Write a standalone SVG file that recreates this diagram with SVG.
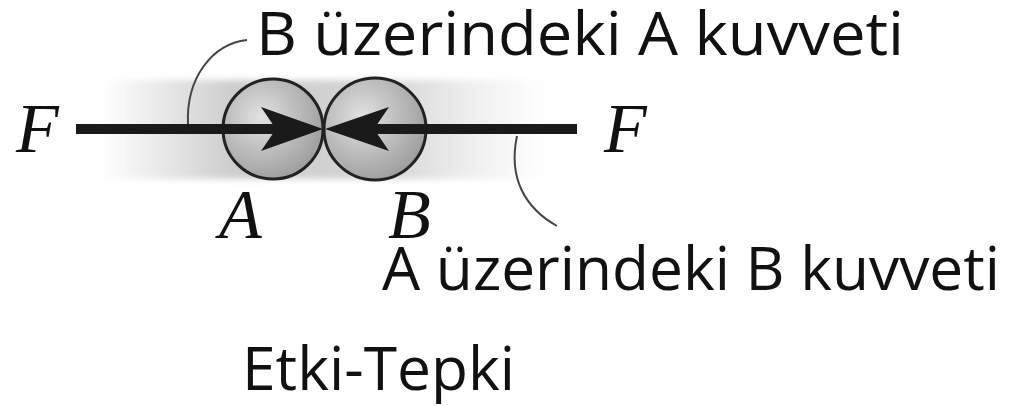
<svg xmlns="http://www.w3.org/2000/svg" width="1013" height="406" viewBox="0 0 1013 406">
  <style>
    .lbl { font-family: "Open Sans", "Liberation Sans", sans-serif; font-size: 60px; fill: #111; }
    .math { font-family: "Liberation Serif", "DejaVu Serif", serif; font-style: italic; font-size: 70px; fill: #111; }
    .ball { fill: url(#ballGrad); stroke: #222; stroke-width: 3; }
    .force { stroke: #1a1a1a; stroke-width: 10; fill: none; }
    .head { fill: #1a1a1a; }
    .leader { stroke: #444; stroke-width: 2; fill: none; }
  </style>
  <defs>
    <linearGradient id="bandGrad" x1="0" y1="0" x2="1" y2="0">
      <stop offset="0" stop-color="#d0d0d0" stop-opacity="0"/>
      <stop offset="0.3" stop-color="#cccccc" stop-opacity="1"/>
      <stop offset="0.65" stop-color="#d6d6d6" stop-opacity="1"/>
      <stop offset="1" stop-color="#e6e6e6" stop-opacity="0"/>
    </linearGradient>
    <radialGradient id="ballGrad" cx="0.38" cy="0.38" r="0.7">
      <stop offset="0" stop-color="#e2e2e2"/>
      <stop offset="0.5" stop-color="#bdbdbd"/>
      <stop offset="1" stop-color="#9a9a9a"/>
    </radialGradient>
    <filter id="soft" x="-0.1" y="-0.3" width="1.2" height="1.6">
      <feGaussianBlur stdDeviation="3"/>
    </filter>
  </defs>
  <rect width="1013" height="406" fill="#fff"/>
  <g id="band">
    <rect x="100" y="80" width="450" height="99" fill="url(#bandGrad)" filter="url(#soft)"/>
  </g>
  <g id="ballA">
    <circle class="ball" cx="273" cy="129" r="50"/>
    <text class="math" x="219" y="238">A</text>
  </g>
  <g id="ballB">
    <circle class="ball" cx="375" cy="129" r="51"/>
    <text class="math" x="388" y="238">B</text>
  </g>
  <g id="connectors">
    <line class="force" x1="76" y1="129" x2="280" y2="129"/>
    <path class="head" d="M323,129 L261,107 L276,129 L261,151 Z"/>
    <line class="force" x1="370" y1="129" x2="577" y2="129"/>
    <path class="head" d="M325,129 L389,107 L374,129 L389,151 Z"/>
    <path class="leader" d="M188,124 C186,78 212,44 247,40"/>
    <path class="leader" d="M517,136 C508,178 525,208 557,226"/>
  </g>
  <g id="forceLabels">
    <text class="math" x="16" y="152">F</text>
    <text class="math" x="604" y="152">F</text>
  </g>
  <g id="labelTop">
    <text class="lbl" x="256" y="55" textLength="648" lengthAdjust="spacingAndGlyphs">B üzerindeki A kuvveti</text>
  </g>
  <g id="labelBottom">
    <text class="lbl" x="382" y="290" textLength="618" lengthAdjust="spacingAndGlyphs">A üzerindeki B kuvveti</text>
  </g>
  <g id="caption">
    <text class="lbl" x="242" y="390" textLength="273" lengthAdjust="spacingAndGlyphs">Etki-Tepki</text>
  </g>
</svg>
